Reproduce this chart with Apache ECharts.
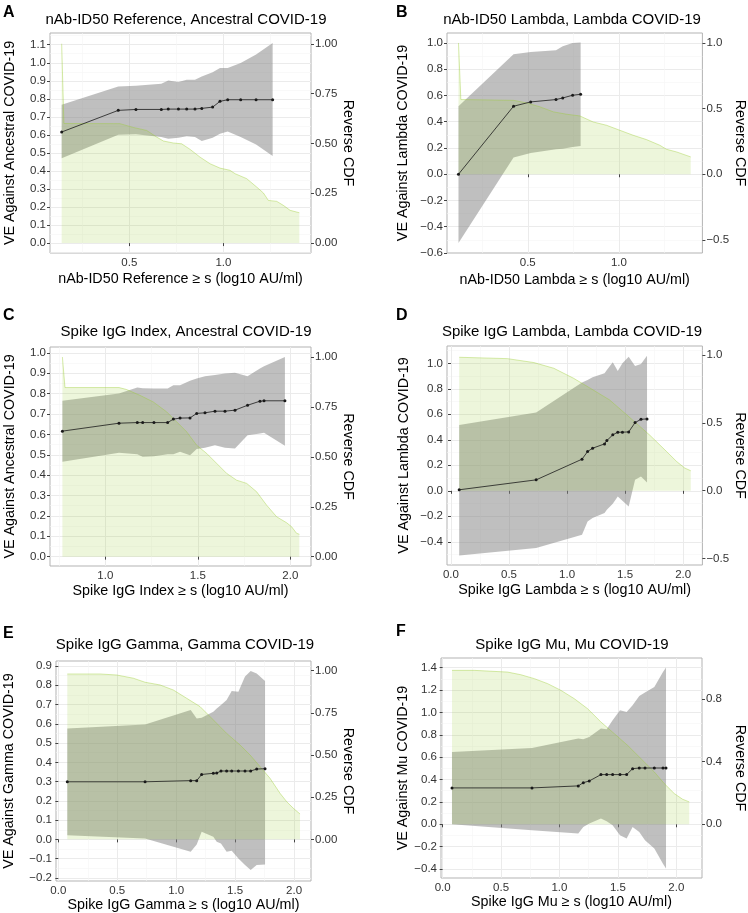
<!DOCTYPE html>
<html>
<head>
<meta charset="utf-8">
<script src="https://cdn.jsdelivr.net/npm/echarts@6/dist/echarts.min.js"></script>
<style>
html, body { margin: 0; padding: 0; background: #fff; }
#chart { width: 748px; height: 913px; }
</style>
</head>
<body>
<div id="chart"></div>
<script>
// Panel A: nAb-ID50 Reference, Ancestral
const aVeX = [0.14, 0.441, 0.535, 0.670, 0.707, 0.761, 0.805, 0.849, 0.885, 0.943, 0.982, 1.023, 1.092, 1.174, 1.262]
const aVe = [0.616, 0.736, 0.741, 0.741, 0.743, 0.743, 0.743, 0.743, 0.747, 0.754, 0.786, 0.795, 0.795, 0.795, 0.795]
const aUpper = [0.767, 0.869, 0.873, 0.884, 0.902, 0.893, 0.906, 0.906, 0.924, 0.948, 0.971, 0.971, 0.998, 1.046, 1.109]
const aLower = [0.471, 0.601, 0.603, 0.588, 0.579, 0.584, 0.592, 0.588, 0.566, 0.584, 0.606, 0.619, 0.588, 0.547, 0.483]
const aCdfX = [0.14, 0.152, 0.45, 0.521, 0.592, 0.645, 0.681, 0.734, 0.778, 0.823, 0.876, 0.929, 0.982, 1.035, 1.062, 1.124, 1.177, 1.213, 1.239, 1.284, 1.319, 1.355, 1.404]
const aCdf = [1.0, 0.6, 0.599, 0.58, 0.565, 0.532, 0.512, 0.502, 0.498, 0.47, 0.431, 0.398, 0.376, 0.365, 0.348, 0.323, 0.281, 0.251, 0.214, 0.209, 0.189, 0.164, 0.152]

// Panel B: nAb-ID50 Lambda, Lambda
const bVeX = [0.120, 0.422, 0.516, 0.655, 0.692, 0.746, 0.790]
const bVe = [0.0, 0.518, 0.551, 0.569, 0.581, 0.602, 0.609]
const bUpper = [0.518, 0.914, 0.931, 0.944, 0.975, 1.0, 1.003]
const bLower = [-0.523, 0.127, 0.162, 0.19, 0.195, 0.208, 0.216]
const bCdfX = [0.12, 0.133, 0.422, 0.495, 0.568, 0.641, 0.714, 0.786, 0.859, 0.932, 1.005, 1.078, 1.151, 1.224, 1.261, 1.316, 1.394]
const bCdf = [1.0, 0.569, 0.563, 0.543, 0.513, 0.475, 0.457, 0.444, 0.398, 0.373, 0.335, 0.297, 0.264, 0.221, 0.19, 0.17, 0.132]

// Panel C: Spike IgG Index, Ancestral
const cVeX = [0.768, 1.074, 1.173, 1.202, 1.263, 1.337, 1.368, 1.404, 1.458, 1.494, 1.539, 1.593, 1.647, 1.701, 1.769, 1.836, 1.858, 1.971]
const cVe = [0.616, 0.655, 0.658, 0.658, 0.658, 0.658, 0.675, 0.680, 0.681, 0.703, 0.706, 0.714, 0.714, 0.719, 0.743, 0.763, 0.765, 0.765]
const cUpper = [0.765, 0.801, 0.830, 0.827, 0.825, 0.825, 0.841, 0.841, 0.863, 0.874, 0.886, 0.891, 0.899, 0.902, 0.886, 0.923, 0.935, 0.980]
const cLower = [0.466, 0.510, 0.503, 0.490, 0.493, 0.503, 0.503, 0.515, 0.498, 0.528, 0.534, 0.547, 0.534, 0.531, 0.596, 0.605, 0.608, 0.544]
const cCdfX = [0.768, 0.782, 1.074, 1.115, 1.187, 1.259, 1.332, 1.386, 1.44, 1.494, 1.548, 1.602, 1.656, 1.71, 1.764, 1.818, 1.872, 1.926, 1.98, 2.007, 2.034, 2.049]
const cCdf = [1.0, 0.847, 0.847, 0.837, 0.808, 0.775, 0.725, 0.675, 0.625, 0.558, 0.517, 0.467, 0.417, 0.383, 0.367, 0.325, 0.258, 0.2, 0.17, 0.15, 0.117, 0.112]

// Panel D: Spike IgG Lambda, Lambda
const dVeX = [0.071, 0.734, 1.129, 1.177, 1.22, 1.323, 1.343, 1.394, 1.437, 1.477, 1.531, 1.586, 1.637, 1.689]
const dVe = [0.008, 0.086, 0.248, 0.308, 0.334, 0.368, 0.394, 0.439, 0.460, 0.460, 0.462, 0.535, 0.561, 0.564]
const dUpper = [0.517, 0.614, 0.849, 0.869, 0.89, 0.922, 0.948, 1.008, 0.94, 1.0, 1.052, 0.979, 0.995, 1.06]
const dLower = [-0.507, -0.449, -0.345, -0.24, -0.214, -0.175, -0.149, -0.102, -0.044, -0.078, -0.123, 0.086, 0.112, 0.065]
const dCdfX = [0.071, 0.486, 0.714, 0.886, 1.057, 1.2, 1.366, 1.514, 1.709, 1.857, 1.943, 2.014, 2.066]
const dCdf = [0.983, 0.973, 0.944, 0.902, 0.828, 0.755, 0.669, 0.559, 0.412, 0.289, 0.216, 0.167, 0.147]

// Panel E: Spike IgG Gamma, Gamma
const eVeX = [0.076, 0.736, 1.123, 1.174, 1.216, 1.315, 1.344, 1.38, 1.428, 1.471, 1.528, 1.584, 1.632, 1.683, 1.754]
const eVe = [0.299, 0.299, 0.305, 0.305, 0.337, 0.343, 0.344, 0.355, 0.355, 0.355, 0.355, 0.355, 0.355, 0.365, 0.367]
const eUpper = [0.576, 0.597, 0.672, 0.628, 0.632, 0.663, 0.68, 0.697, 0.723, 0.77, 0.767, 0.845, 0.874, 0.861, 0.822]
const eLower = [0.022, 0.005, -0.064, -0.026, 0.04, 0.014, -0.012, -0.021, -0.064, -0.059, -0.099, -0.133, -0.159, -0.133, -0.13]
const eCdfX = [0.076, 0.354, 0.495, 0.636, 0.736, 0.863, 0.976, 1.089, 1.202, 1.315, 1.428, 1.542, 1.627, 1.711, 1.796, 1.881, 1.938, 1.994, 2.051]
const eCdf = [0.98, 0.98, 0.974, 0.955, 0.931, 0.915, 0.885, 0.836, 0.787, 0.708, 0.628, 0.559, 0.5, 0.431, 0.362, 0.273, 0.223, 0.184, 0.15]

// Panel F: Spike IgG Mu, Mu
const fVeX = [0.08, 0.765, 1.161, 1.204, 1.255, 1.355, 1.404, 1.455, 1.518, 1.575, 1.626, 1.683, 1.732, 1.812, 1.886, 1.912]
const fVe = [0.325, 0.325, 0.343, 0.372, 0.387, 0.444, 0.444, 0.444, 0.444, 0.444, 0.497, 0.503, 0.503, 0.503, 0.503, 0.503]
const fUpper = [0.646, 0.682, 0.766, 0.76, 0.78, 0.855, 0.849, 0.929, 1.019, 1.004, 1.063, 1.147, 1.177, 1.227, 1.361, 1.4]
const fLower = [0.0, -0.054, -0.083, -0.024, 0.006, 0.051, 0.027, -0.009, -0.098, -0.128, -0.024, -0.069, -0.143, -0.217, -0.352, -0.396]
const fCdfX = [0.08, 0.271, 0.556, 0.67, 0.785, 0.899, 1.013, 1.127, 1.241, 1.355, 1.469, 1.583, 1.698, 1.812, 1.897, 1.983, 2.054, 2.111]
const fCdf = [0.983, 0.983, 0.972, 0.955, 0.93, 0.898, 0.855, 0.802, 0.738, 0.653, 0.579, 0.504, 0.419, 0.334, 0.26, 0.196, 0.16, 0.143]

const FONT = 'Liberation Sans, Arial, sans-serif'

const panels = [
  {
    letter: 'A', title: 'nAb-ID50 Reference, Ancestral COVID-19',
    xName: 'nAb-ID50 Reference ≥ s (log10 AU/ml)', yName: 'VE Against Ancestral COVID-19',
    veX: aVeX, ve: aVe, up: aUpper, lo: aLower, cdfX: aCdfX, cdf: aCdf,
    grid: { left: 50, top: 33, width: 261, height: 220 },
    x: [0.078, 1.466, 0.5, 1], yl: [-0.055, 1.165, 0.1, 1], yr: [-0.05, 1.054, 0.25, 2],
    gaps: [19.5, 33, 28.5], titleXY: [186, 20], letterXY: [3, 13]
  },
  {
    letter: 'B', title: 'nAb-ID50 Lambda, Lambda COVID-19',
    xName: 'nAb-ID50 Lambda ≥ s (log10 AU/ml)', yName: 'VE Against Lambda COVID-19',
    veX: bVeX, ve: bVe, up: bUpper, lo: bLower, cdfX: bCdfX, cdf: bCdf,
    grid: { left: 447, top: 33, width: 256, height: 220 },
    x: [0.057, 1.458, 0.5, 1], yl: [-0.6, 1.076, 0.2, 1], yr: [-0.6, 1.076, 0.5, 1],
    gaps: [20.5, 36.5, 28.5], titleXY: [572, 20], letterXY: [396, 13]
  },
  {
    letter: 'C', title: 'Spike IgG Index, Ancestral COVID-19',
    xName: 'Spike IgG Index ≥ s (log10 AU/ml)', yName: 'VE Against Ancestral COVID-19',
    veX: cVeX, ve: cVe, up: cUpper, lo: cLower, cdfX: cCdfX, cdf: cCdf,
    grid: { left: 50, top: 347, width: 261, height: 219 },
    x: [0.701, 2.112, 0.5, 1], yl: [-0.046, 1.029, 0.1, 1], yr: [-0.0467, 1.05, 0.25, 2],
    gaps: [18.5, 33, 28.5], titleXY: [186, 332], letterXY: [3, 316]
  },
  {
    letter: 'D', title: 'Spike IgG Lambda, Lambda COVID-19',
    xName: 'Spike IgG Lambda ≥ s (log10 AU/ml)', yName: 'VE Against Lambda COVID-19',
    veX: dVeX, ve: dVe, up: dUpper, lo: dLower, cdfX: dCdfX, cdf: dCdf,
    grid: { left: 447, top: 346, width: 256, height: 219 },
    x: [-0.034, 2.166, 0.5, 1], yl: [-0.582, 1.136, 0.2, 1], yr: [-0.547, 1.066, 0.5, 1],
    gaps: [18.5, 35.5, 28.5], titleXY: [572, 332], letterXY: [396, 316]
  },
  {
    letter: 'E', title: 'Spike IgG Gamma, Gamma COVID-19',
    xName: 'Spike IgG Gamma ≥ s (log10 AU/ml)', yName: 'VE Against Gamma COVID-19',
    veX: eVeX, ve: eVe, up: eUpper, lo: eLower, cdfX: eCdfX, cdf: eCdf,
    grid: { left: 56, top: 661, width: 255, height: 220 },
    x: [-0.02, 2.144, 0.5, 1], yl: [-0.216, 0.926, 0.1, 1], yr: [-0.247, 1.057, 0.25, 2],
    gaps: [12.5, 39.5, 28.5], titleXY: [185, 645], letterXY: [3, 634]
  },
  {
    letter: 'F', title: 'Spike IgG Mu, Mu COVID-19',
    xName: 'Spike IgG Mu ≥ s (log10 AU/ml)', yName: 'VE Against Mu COVID-19',
    veX: fVeX, ve: fVe, up: fUpper, lo: fLower, cdfX: fCdfX, cdf: fCdf,
    grid: { left: 441, top: 658, width: 261, height: 220 },
    x: [-0.014, 2.22, 0.5, 1], yl: [-0.48, 1.486, 0.2, 1], yr: [-0.343, 1.062, 0.4, 1],
    gaps: [11.5, 29.5, 30.5], titleXY: [572, 645], letterXY: [396, 632]
  }
]

function fmt (v, d) {
  const s = (Math.abs(v) < 1e-9 ? 0 : v).toFixed(d)
  return s.replace('-', '\u2212')
}

function valueAxis (i, r, minor, extra) {
  return Object.assign({
    gridIndex: i,
    type: 'value',
    min: r[0],
    max: r[1],
    minInterval: r[2],
    maxInterval: r[2],
    axisLine: { show: false },
    axisTick: { show: true, length: 3, lineStyle: { color: '#444', width: 1 } },
    axisLabel: {
      color: '#333',
      fontSize: 11.5,
      fontFamily: FONT,
      margin: 4,
      showMinLabel: false,
      showMaxLabel: false,
      formatter: (v) => fmt(v, r[3])
    },
    splitLine: {
      show: minor,
      showMinLine: false,
      showMaxLine: false,
      lineStyle: { color: '#ebebeb', width: 1 }
    },
    minorTick: { show: false, splitNumber: 2 },
    minorSplitLine: { show: minor, lineStyle: { color: '#f5f5f5', width: 0.6 } },
    nameLocation: 'middle',
    nameTextStyle: { color: '#000', fontSize: 14.3, fontFamily: FONT }
  }, extra)
}

const grids = []
const xAxes = []
const yAxes = []
const series = []
const graphics = []

panels.forEach((p, i) => {
  grids.push(Object.assign({ show: true, borderColor: '#b3b3b3', borderWidth: 1, backgroundColor: 'transparent' }, p.grid))

  xAxes.push(valueAxis(i, p.x, true, { name: p.xName, nameGap: p.gaps[0] }))

  const left = valueAxis(i, p.yl, true, { position: 'left', name: p.yName, nameGap: p.gaps[1] })
  // B has -0.6 right on the lower edge
  if (p.yl[0] === -0.6) left.axisLabel.showMinLabel = true
  yAxes.push(left)

  const right = valueAxis(i, p.yr, false, { position: 'right', name: 'Reverse CDF', nameGap: p.gaps[2], nameRotate: -90 })
  yAxes.push(right)

  // grey confidence band
  series.push({
    type: 'custom',
    xAxisIndex: i,
    yAxisIndex: 2 * i,
    silent: true,
    data: p.veX.map((x, k) => [x, p.lo[k], p.up[k]]),
    encode: { x: 0, y: [1, 2] },
    renderItem (params, api) {
      if (params.dataIndex !== 0) return null
      const pts = []
      p.veX.forEach((x, k) => pts.push(api.coord([x, p.up[k]])))
      for (let k = p.veX.length - 1; k >= 0; k--) pts.push(api.coord([p.veX[k], p.lo[k]]))
      return { type: 'polygon', shape: { points: pts }, style: { fill: 'rgba(127,127,127,0.5)' } }
    }
  })

  // reverse CDF area
  series.push({
    type: 'line',
    xAxisIndex: i,
    yAxisIndex: 2 * i + 1,
    silent: true,
    symbol: 'none',
    data: p.cdfX.map((x, k) => [x, p.cdf[k]]),
    lineStyle: { color: 'rgba(154,205,50,0.5)', width: 0.8 },
    areaStyle: { color: 'rgba(154,205,50,0.25)' }
  })

  // VE curve
  series.push({
    type: 'line',
    xAxisIndex: i,
    yAxisIndex: 2 * i,
    silent: true,
    symbol: 'circle',
    symbolSize: 3,
    data: p.veX.map((x, k) => [x, p.ve[k]]),
    itemStyle: { color: '#1a1a1a' },
    lineStyle: { color: '#1a1a1a', width: 0.8 }
  })

  graphics.push({
    type: 'text',
    x: p.titleXY[0],
    y: p.titleXY[1],
    style: { text: p.title, fontSize: 15, fontFamily: FONT, fill: '#000', textAlign: 'center', textVerticalAlign: 'middle' }
  })
  graphics.push({
    type: 'text',
    x: p.letterXY[0],
    y: p.letterXY[1],
    style: { text: p.letter, fontSize: 16, fontWeight: 'bold', fontFamily: FONT, fill: '#000', textAlign: 'left', textVerticalAlign: 'middle' }
  })
})

const chart = echarts.init(document.getElementById('chart'), null, { renderer: 'canvas' })
chart.setOption({
  animation: false,
  backgroundColor: '#fff',
  grid: grids,
  xAxis: xAxes,
  yAxis: yAxes,
  series,
  graphic: graphics
})
</script>
</body>
</html>
